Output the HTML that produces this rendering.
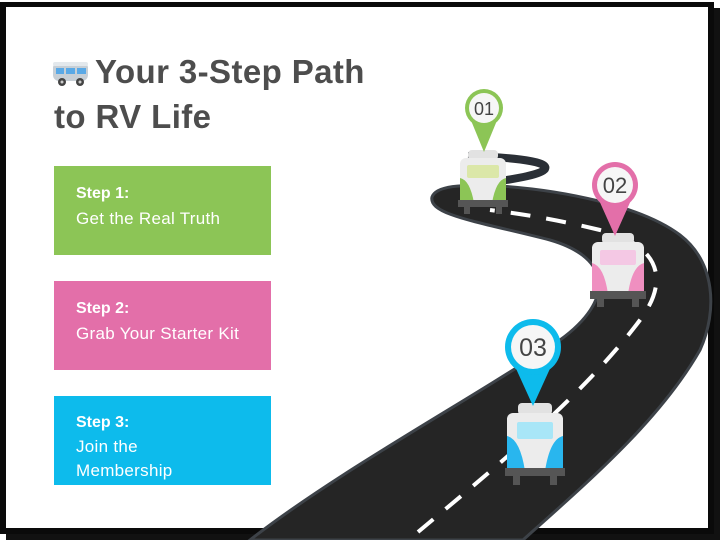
<!DOCTYPE html>
<html><head><meta charset="utf-8"><style>
*{margin:0;padding:0;box-sizing:border-box}
body{width:720px;height:540px;background:#fff;position:relative;overflow:hidden;font-family:"Liberation Sans",sans-serif}
.frame{position:absolute;left:0;top:2px;width:714px;height:532px;border:6px solid #0a0a0a;border-top-width:5px;box-shadow:6px 6px 0 #111}
.t{position:absolute;left:54px;font-weight:bold;font-size:33px;color:#4d4d4d;letter-spacing:0.4px}
.box{position:absolute;left:54px;width:217px;height:89px;color:#fff;font-size:17px;padding:14px 0 0 22px;line-height:25px;letter-spacing:0.3px}
.box b{font-size:16px;letter-spacing:0}
</style></head><body>
<div class="frame"></div>
<svg style="position:absolute;left:52px;top:60px" width="38" height="28" viewBox="0 0 38 28">
<rect x="1" y="2" width="35" height="19" rx="6" fill="#c7cfd6"/>
<rect x="1" y="2" width="35" height="4" rx="2" fill="#e3e8ec"/>
<rect x="4" y="8" width="8" height="6" fill="#5aa9e6"/><rect x="14" y="8" width="9" height="6" fill="#5aa9e6"/><rect x="25" y="8" width="9" height="6" fill="#5aa9e6"/>
<circle cx="10" cy="22" r="4" fill="#444"/><circle cx="28" cy="22" r="4" fill="#444"/>
<circle cx="10" cy="22" r="1.5" fill="#ccc"/><circle cx="28" cy="22" r="1.5" fill="#ccc"/>
</svg>
<div class="t" style="top:53px;left:95px">Your 3-Step Path</div>
<div class="t" style="top:98px">to RV Life</div>
<div class="box" style="top:166px;background:#8cc556"><b>Step 1:</b><br>Get the Real Truth</div>
<div class="box" style="top:281px;background:#e36fa9"><b>Step 2:</b><br>Grab Your Starter Kit</div>
<div class="box" style="top:396px;background:#0dbbec;line-height:24px"><b>Step 3:</b><br>Join the<br>Membership</div>
<svg style="position:absolute;left:0;top:0" width="720" height="540" viewBox="0 0 720 540">
<path d="M470,186 C505,180 540,176 545,169 C550,160 500,157 468,156" fill="none" stroke="#2a2f36" stroke-width="8"/>
<path d="M250,540 C340,470 470,400 560,340 C615,300 612,258 550,240 C480,222 428,215 432,197 C436,186 460,184 500,186 C560,190 640,205 680,235 C715,262 718,310 700,350 C660,420 590,480 523,540 Z" fill="#252525" stroke="#3d4248" stroke-width="3"/>
<path d="M418,532 C480,480 580,400 640,320 C670,280 660,245 600,230 C550,218 515,213 490,210" fill="none" stroke="#fff" stroke-width="4" stroke-dasharray="20 16"/>
<g transform="translate(458,150)">
<rect x="10" y="0" width="30" height="10" rx="4" fill="#e2e2e2"/>
<rect x="2" y="8" width="46" height="45" rx="6" fill="#ececec"/>
<path d="M2,28 Q12,30 16,53 L2,53 Z M48,28 Q38,30 34,53 L48,53 Z" fill="#8cc556"/>
<rect x="9" y="15" width="32" height="13" rx="2" fill="#dbe7a8"/>
<rect x="0" y="50" width="50" height="7" fill="#555"/>
<rect x="6" y="57" width="6" height="7" fill="#555"/><rect x="38" y="57" width="6" height="7" fill="#555"/>
</g>
<g transform="translate(590,233)">
<rect x="12" y="0" width="32" height="11" rx="4" fill="#e2e2e2"/>
<rect x="2" y="9" width="52" height="52" rx="6" fill="#ececec"/>
<path d="M2,30 Q14,33 18,61 L2,61 Z M54,30 Q42,33 38,61 L54,61 Z" fill="#ef8fc0"/>
<rect x="10" y="17" width="36" height="15" rx="2" fill="#f4c8e4"/>
<rect x="0" y="58" width="56" height="8" fill="#555"/>
<rect x="7" y="66" width="7" height="8" fill="#555"/><rect x="42" y="66" width="7" height="8" fill="#555"/>
</g>
<g transform="translate(505,403)">
<rect x="13" y="0" width="34" height="12" rx="4" fill="#e2e2e2"/>
<rect x="2" y="10" width="56" height="58" rx="6" fill="#ececec"/>
<path d="M2,33 Q15,36 20,68 L2,68 Z M58,33 Q45,36 40,68 L58,68 Z" fill="#29b6ee"/>
<rect x="12" y="19" width="36" height="17" rx="2" fill="#a8e6f7"/>
<rect x="0" y="65" width="60" height="8" fill="#555"/>
<rect x="8" y="73" width="7" height="9" fill="#555"/><rect x="45" y="73" width="7" height="9" fill="#555"/>
</g>
<path d="M470,118 L484,152 L498,118 Z" fill="#8cc556"/>
<circle cx="484" cy="108" r="19" fill="#8cc556"/><circle cx="484" cy="108" r="15" fill="#f6f6f6"/>
<text x="484" y="115" text-anchor="middle" font-size="18" fill="#444" font-family="Liberation Sans,sans-serif">01</text>
<path d="M598,198 L615,236 L632,198 Z" fill="#e36fa9"/>
<circle cx="615" cy="185" r="23" fill="#e36fa9"/><circle cx="615" cy="185" r="18" fill="#f6f6f6"/>
<text x="615" y="193" text-anchor="middle" font-size="22" fill="#444" font-family="Liberation Sans,sans-serif">02</text>
<path d="M513,362 L533,406 L553,362 Z" fill="#0dbbec"/>
<circle cx="533" cy="347" r="28" fill="#0dbbec"/><circle cx="533" cy="347" r="22" fill="#f6f6f6"/>
<text x="533" y="356" text-anchor="middle" font-size="25" fill="#444" font-family="Liberation Sans,sans-serif">03</text>
</svg>
</body></html>
